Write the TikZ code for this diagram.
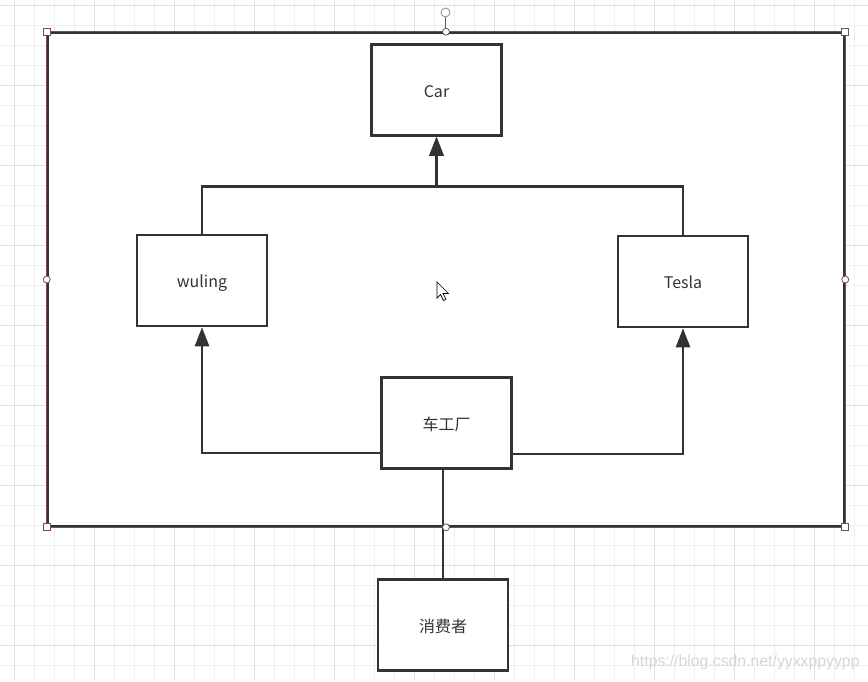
\documentclass[tikz,border=0pt]{standalone}
\usepackage{fontspec}
\newfontfamily\cjk{Noto Sans CJK SC}
\newfontfamily\wmfont{Liberation Sans}
\usetikzlibrary{arrows.meta}
\definecolor{ink}{HTML}{333333}
\definecolor{gridminor}{HTML}{EFEFEF}
\definecolor{gridmajor}{HTML}{E0E0E0}
\definecolor{selred}{HTML}{7A4A55}
\definecolor{rothandle}{HTML}{8A8A8A}
\definecolor{wmcol}{HTML}{D6D6D6}
\begin{document}
\begin{tikzpicture}[x=1pt,y=-1pt,
  box/.style={draw=ink, line width=2.5pt, fill=white, minimum width=130pt,
    minimum height=91pt, inner sep=0pt, text=ink, text height=17pt, text depth=3pt,
    font=\cjk\fontsize{16}{18}\selectfont},
  conn/.style={draw=ink, line width=2.5pt},
  arr/.style={conn, -{Triangle[length=19pt,width=14pt]}},
  gminor/.style={draw=gridminor, line width=1pt},
  gmajor/.style={draw=gridmajor, line width=1pt},
  sqhandle/.style={draw=selred, fill=white, line width=0.8pt, minimum size=7pt,
    inner sep=0pt, rectangle},
  cirhandle/.style={draw=selred, fill=white, line width=0.8pt, minimum size=7pt,
    inner sep=0pt, circle}]
\useasboundingbox (0,0) rectangle (868,681);
\fill[white] (0,0) rectangle (868,681);
% grid
\foreach \x in {14,34,...,854} \draw[gminor] (\x,0) -- (\x,681);
\foreach \y in {5,25,...,665} \draw[gminor] (0,\y) -- (868,\y);
\foreach \x in {14,94,...,814} \draw[gmajor] (\x,0) -- (\x,681);
\foreach \y in {5,85,...,645} \draw[gmajor] (0,\y) -- (868,\y);
% container frame
\node[draw=ink, fill=white, line width=2.5pt, minimum width=796pt,
  minimum height=493pt, inner sep=0pt] (frame) at (446,279.5) {};
\draw[selred, line width=0.6pt] (frame.north west) rectangle (frame.south east);
% boxes
\node[box] (car) at (436.5,90) {Car};
\node[box] (wuling) at (202,280.5) {wuling};
\node[box] (tesla) at (683,281.5) {Tesla};
\node[box] (fac) at (446.5,423) {车工厂};
\node[box] (cons) at (443,625) {消费者};
% connectors
\path (car.south) ++(0,49.5) coordinate (junc);
\draw[arr] (wuling.north) |- (junc) -- (car.south);
\draw[arr] (tesla.north) |- (junc) -- (car.south);
\draw[arr] ([yshift=17pt]fac.south west) -| (wuling.south);
\draw[arr] ([yshift=16pt]fac.south east) -| (tesla.south);
\draw[conn] (fac.south -| cons.north) -- (cons.north);
% selection handles
\node[sqhandle] (h1) at (frame.north west) {};
\node[sqhandle] (h2) at (frame.north east) {};
\node[sqhandle] (h3) at (frame.south west) {};
\node[sqhandle] (h4) at (frame.south east) {};
\node[cirhandle] (h5) at (frame.west) {};
\node[cirhandle] (h6) at (frame.east) {};
\node[cirhandle] (h8) at (frame.south) {};
\node[circle, draw=rothandle, fill=white, line width=0.8pt, minimum size=9pt,
  inner sep=0pt] (rot) at (445.5,12.5) {};
\draw[selred, line width=0.8pt] (rot.south) -- (rot.south |- frame.north);
\node[cirhandle] (h7) at (frame.north) {};
% mouse cursor
\draw[fill=white, draw=black, line width=0.7pt, line join=miter]
  (437,282) -- (437,298) -- (440.5,294.5) -- (443.5,300.5) -- (446,299.3)
  -- (443,293.5) -- (448.5,293.5) -- cycle;
% watermark
\node[anchor=west, inner sep=0pt, text=wmcol,
  font=\wmfont\fontsize{15.8}{18}\selectfont] (wm) at (631,662)
  {https://blog.csdn.net/yyxxppyypp};
\end{tikzpicture}
\end{document}
